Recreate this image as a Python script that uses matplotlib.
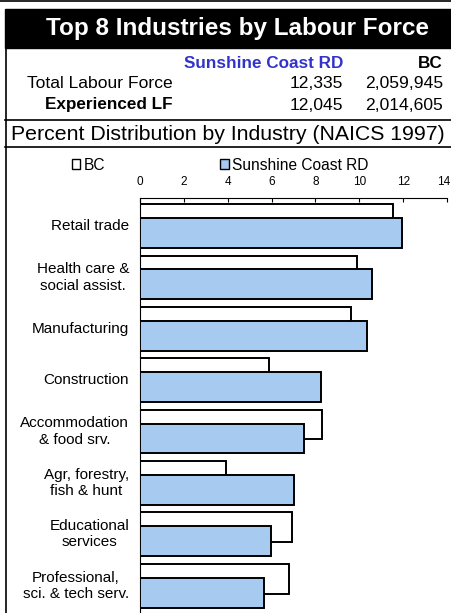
import matplotlib
matplotlib.use('Agg')
import matplotlib.pyplot as plt
import matplotlib.transforms as mtransforms
from matplotlib.patches import Rectangle, Patch
from matplotlib.lines import Line2D

# Dados
industrias = ['Retail trade', 'Health care &\nsocial assist.', 'Manufacturing', 'Construction',
              'Accommodation\n& food srv.', 'Agr, forestry,\nfish & hunt', 'Educational\nservices',
              'Professional,\nsci. & tech serv.']
bc = [11.54, 9.91, 9.62, 5.90, 8.28, 3.91, 6.93, 6.81]
scrd = [11.93, 10.56, 10.34, 8.24, 7.46, 7.02, 5.99, 5.64]
x_ticks = [0, 2, 4, 6, 8, 10, 12, 14]

titulo = 'Top 8 Industries by Labour Force'
regiao = 'Sunshine Coast RD'
provincia = 'BC'
linhas_tabela = [('Total Labour Force', '12,335', '2,059,945', 'normal'),
                 ('Experienced LF', '12,045', '2,014,605', 'bold')]
subtitulo = 'Percent Distribution by Industry (NAICS 1997)'

plt.rcParams['font.family'] = ['Liberation Sans', 'DejaVu Sans']

W, H = 452, 613
fig = plt.figure(figsize=(W / 100, H / 100), dpi=100)


def fx(x):
    return x / W


def fy(y):
    return 1 - y / H


# Moldura e faixa do título
fig.add_artist(Line2D([0, 1], [fy(1), fy(1)], color='black', lw=1.2))
fig.add_artist(Rectangle((fx(5), fy(48)), 1 - fx(5), fy(9) - fy(48), color='black'))
fig.add_artist(Line2D([fx(6), fx(6)], [fy(48), 0], color='black', lw=1.2))
fig.add_artist(Line2D([fx(5), 1], [fy(120), fy(120)], color='black', lw=1.2))
fig.add_artist(Line2D([fx(5), 1], [fy(147), fy(147)], color='black', lw=1.2))

fig.text(fx(238), fy(29), titulo, color='white', fontsize=17.5, fontweight='bold',
         ha='center', va='center')

# Tabela resumo
fig.text(fx(343), fy(63), regiao, color='#3333CC', fontsize=12.3, fontweight='bold',
         ha='right', va='center')
fig.text(fx(443), fy(63), provincia, color='black', fontsize=12.3, fontweight='bold',
         ha='right', va='center')
for i, (nome, v1, v2, peso) in enumerate(linhas_tabela):
    y = 84 + i * 21
    if peso == 'bold':
        fig.text(fx(45), fy(y), nome, fontsize=12.3, fontweight='bold', ha='left', va='center')
    else:
        fig.text(fx(27), fy(y), nome, fontsize=12.6, ha='left', va='center')
    fig.text(fx(343), fy(y), v1, fontsize=12.6, ha='right', va='center')
    fig.text(fx(443), fy(y), v2, fontsize=12.6, ha='right', va='center')

fig.text(fx(228), fy(134), subtitulo, fontsize=15.3, ha='center', va='center')

# Gráfico de barras
ax = fig.add_axes([fx(140), 0, fx(447) - fx(140), fy(198)])
pos = list(range(len(industrias)))
ax.barh([p - 0.136 for p in pos], bc, height=0.58, color='white', edgecolor='black',
        linewidth=1.4, zorder=2)
ax.barh([p + 0.136 for p in pos], scrd, height=0.58, color='#A6CAF0', edgecolor='black',
        linewidth=1.4, zorder=3)

ax.set_xlim(0, 14)
ax.set_ylim(7.53, -0.545)
ax.xaxis.tick_top()
ax.set_xticks(x_ticks)
ax.tick_params(axis='x', direction='in', length=3, pad=7, labelsize=8.5)
ax.set_yticks([])
for s in ['right', 'bottom']:
    ax.spines[s].set_visible(False)
ax.spines['top'].set_linewidth(0.8)
ax.spines['left'].set_linewidth(0.8)

# o último rótulo encosta na borda: desloca um pouco para a esquerda
ultimo = ax.get_xticklabels()[-1]
ultimo.set_transform(ultimo.get_transform() +
                     mtransforms.ScaledTranslation(-3 / 100, 0, fig.dpi_scale_trans))

for p, nome in zip(pos, industrias):
    ax.text(-0.5, p, nome, fontsize=11, ha='right', va='center', multialignment='center')

# Legenda
fig.legend(handles=[Patch(facecolor='white', edgecolor='black', label='BC'),
                    Patch(facecolor='#A6CAF0', edgecolor='black', label='Sunshine Coast RD')],
           loc='center left', bbox_to_anchor=(fx(64), fy(165)), ncol=2, frameon=False,
           fontsize=11.2, handlelength=0.55, handleheight=0.55, handletextpad=0.2,
           columnspacing=7.4, borderpad=0)

fig.savefig('out.png', dpi=100)
